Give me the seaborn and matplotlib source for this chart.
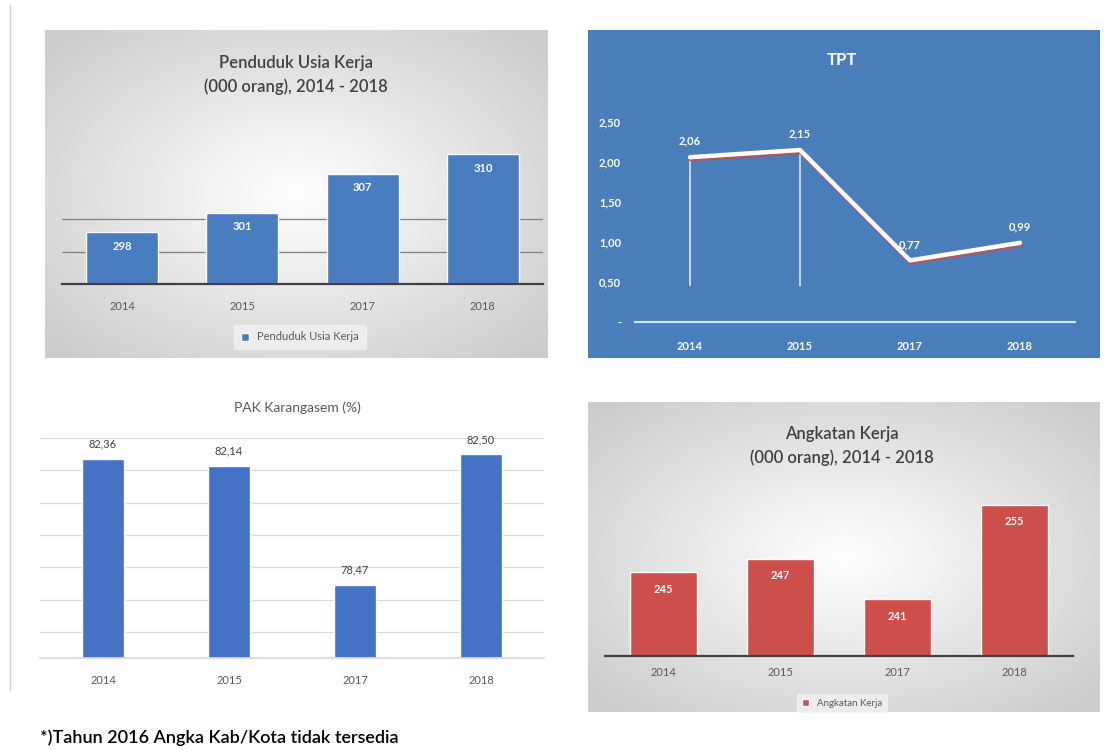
import matplotlib
matplotlib.use("Agg")
import matplotlib.pyplot as plt
import matplotlib.patheffects as pe
from matplotlib.lines import Line2D
import seaborn as sns
import numpy as np
import pandas as pd

years = ["2014", "2015", "2017", "2018"]
usia_kerja = [298, 301, 307, 310]          # Penduduk Usia Kerja (000 orang)
tpt = [2.06, 2.15, 0.77, 0.99]             # TPT (%)
tpak = [82.36, 82.14, 78.47, 82.50]        # PAK Karangasem (%)
angkatan_kerja = [245, 247, 241, 255]      # Angkatan Kerja (000 orang)
tpt_ticks = [0, 0.5, 1.0, 1.5, 2.0, 2.5]

sns.set_theme(style="white")
plt.rcParams["font.family"] = ["Lato", "DejaVu Sans"]

W, H = 1112, 750
fig = plt.figure(figsize=(W / 100, H / 100), dpi=100)
fig.patch.set_facecolor("white")


def box(x0, y0, x1, y1):
    # pixel box (top-left origin) -> figure fraction rect
    return [x0 / W, 1 - y1 / H, (x1 - x0) / W, (y1 - y0) / H]


def gradient_panel(rect, edge=0.80):
    ax = fig.add_axes(rect, zorder=0)
    yy, xx = np.mgrid[-1:1:200j, -1:1:300j]
    r = np.clip(np.sqrt(xx ** 2 + yy ** 2) / 1.35, 0, 1)
    val = 1.0 - (1.0 - edge) * r
    ax.imshow(np.dstack([val, val, val]), aspect="auto", extent=(0, 1, 0, 1))
    ax.set_axis_off()
    return ax


def comma(v, nd=2):
    return f"{v:.{nd}f}".replace(".", ",")


# thin page border on the left
fig.add_artist(Line2D([10 / W, 10 / W], [1 - 5 / H, 1 - 690 / H],
                      transform=fig.transFigure, color="#d0d0d0", lw=1))

# ---------- Penduduk Usia Kerja ----------
gradient_panel(box(45, 30, 548, 358))
ax1 = fig.add_axes(box(62, 141, 543, 284), zorder=1)
ax1.patch.set_alpha(0)
df1 = pd.DataFrame({"tahun": years, "nilai": usia_kerja})
sns.barplot(data=df1, x="tahun", y="nilai", color="#4a7dc0", width=0.6,
            saturation=1, ax=ax1, label="Penduduk Usia Kerja")
ax1.set_ylim(290, 312)
ax1.set_yticks([295, 300])
ax1.yaxis.grid(True, color="#7f7f7f", lw=0.9)
ax1.set_yticklabels([])
ax1.tick_params(axis="y", length=0)
ax1.tick_params(axis="x", length=0, labelsize=8, colors="#595959", pad=12)
ax1.set_xlabel("")
ax1.set_ylabel("")
for s in ["top", "right", "left"]:
    ax1.spines[s].set_visible(False)
ax1.spines["bottom"].set_color("#404040")
ax1.spines["bottom"].set_linewidth(1.6)
for i, v in enumerate(usia_kerja):
    ax1.text(i, v - 2.2, str(v), ha="center", va="center", color="white",
             fontsize=8, fontweight="bold")
fig.text(296 / W, 1 - 75 / H, "Penduduk Usia Kerja\n(000 orang), 2014 - 2018",
         ha="center", va="center", fontsize=12, color="#404040",
         fontweight="semibold", linespacing=1.6)
ax1.legend(loc="center", bbox_to_anchor=(300 / W, 1 - 337 / H),
           bbox_transform=fig.transFigure, fontsize=8, frameon=True,
           facecolor="#f2f2f2", edgecolor="#f2f2f2", handlelength=0.7,
           handleheight=0.7, labelcolor="#595959", borderpad=0.6)

# ---------- TPT ----------
bg2 = fig.add_axes(box(588, 30, 1100, 358), zorder=0)
bg2.set_facecolor("#4a7ebb")
bg2.set_xticks([])
bg2.set_yticks([])
for s in bg2.spines.values():
    s.set_visible(False)
ax2 = fig.add_axes(box(635, 114, 1075, 322), zorder=1)
ax2.patch.set_alpha(0)
df2 = pd.DataFrame({"pos": range(len(years)), "nilai": tpt})
ax2.vlines(df2["pos"][:2], 0.45, df2["nilai"][:2], color="#dce6f2", lw=1.2)
sns.lineplot(data=df2, x="pos", y="nilai", color="white", lw=3.2, ax=ax2,
             path_effects=[pe.SimpleLineShadow(offset=(0.5, -1.5), shadow_color="#c0504d",
                                               alpha=0.9), pe.Normal()])
ax2.set_xlim(-0.5, 3.5)
ax2.set_ylim(0, 2.6)
ax2.set_xticks(range(len(years)))
ax2.set_xticklabels(years)
ax2.set_yticks(tpt_ticks)
ax2.set_yticklabels(["-"] + [comma(t) for t in tpt_ticks[1:]])
ax2.tick_params(axis="both", length=0, labelsize=8, colors="white")
ax2.tick_params(axis="x", pad=14)
ax2.tick_params(axis="y", pad=10)
for lab in ax2.get_yticklabels():
    lab.set_fontweight("bold")
for lab in ax2.get_xticklabels():
    lab.set_fontweight("bold")
ax2.set_xlabel("")
ax2.set_ylabel("")
for s in ["top", "right", "left"]:
    ax2.spines[s].set_visible(False)
ax2.spines["bottom"].set_color("#dce6f2")
ax2.spines["bottom"].set_linewidth(1.5)
for i, v in enumerate(tpt):
    ax2.text(i, v + 0.2, comma(v), ha="center", va="center", color="white",
             fontsize=8, fontweight="bold")
fig.text(842 / W, 1 - 60 / H, "TPT", ha="center", va="center", fontsize=12,
         color="white", fontweight="bold")

# ---------- PAK Karangasem ----------
ax3 = fig.add_axes(box(40, 438, 544, 658), zorder=1)
df3 = pd.DataFrame({"tahun": years, "nilai": tpak})
sns.barplot(data=df3, x="tahun", y="nilai", color="#4472c4", width=0.34,
            saturation=1, ax=ax3)
ax3.set_ylim(76.2, 83.0)
ax3.set_yticks(np.arange(77, 83.5, 1))
ax3.yaxis.grid(True, color="#d9d9d9", lw=0.9)
ax3.set_yticklabels([])
ax3.tick_params(axis="y", length=0)
ax3.tick_params(axis="x", length=0, labelsize=8, colors="#595959", pad=12)
ax3.set_xlabel("")
ax3.set_ylabel("")
for s in ["top", "right", "left"]:
    ax3.spines[s].set_visible(False)
ax3.spines["bottom"].set_color("#d9d9d9")
for i, v in enumerate(tpak):
    ax3.text(i, v + 0.45, comma(v), ha="center", va="center", color="#404040",
             fontsize=8)
fig.text(297 / W, 1 - 408 / H, "PAK Karangasem (%)", ha="center", va="center",
         fontsize=10, color="#595959")

# ---------- Angkatan Kerja ----------
gradient_panel(box(588, 402, 1100, 712))
ax4 = fig.add_axes(box(605, 494, 1073, 656), zorder=1)
ax4.patch.set_alpha(0)
df4 = pd.DataFrame({"tahun": years, "nilai": angkatan_kerja})
sns.barplot(data=df4, x="tahun", y="nilai", color="#cc4f4c", width=0.58,
            saturation=1, ax=ax4, label="Angkatan Kerja")
ax4.set_ylim(232.6, 256.6)
ax4.set_yticks([])
ax4.tick_params(axis="x", length=0, labelsize=8, colors="#595959", pad=8)
ax4.set_xlabel("")
ax4.set_ylabel("")
for s in ["top", "right", "left"]:
    ax4.spines[s].set_visible(False)
ax4.spines["bottom"].set_color("#404040")
ax4.spines["bottom"].set_linewidth(1.6)
for i, v in enumerate(angkatan_kerja):
    ax4.text(i, v - 2.5, str(v), ha="center", va="center", color="white",
             fontsize=8, fontweight="bold")
fig.text(842 / W, 1 - 446 / H, "Angkatan Kerja\n(000 orang), 2014 - 2018",
         ha="center", va="center", fontsize=12, color="#404040",
         fontweight="semibold", linespacing=1.6)
ax4.legend(loc="center", bbox_to_anchor=(842 / W, 1 - 703 / H),
           bbox_transform=fig.transFigure, fontsize=7, frameon=True,
           facecolor="#f2f2f2", edgecolor="#f2f2f2", handlelength=0.7,
           handleheight=0.7, labelcolor="#595959", borderpad=0.5)

# footnote
fig.text(40 / W, 1 - 738 / H, "*)Tahun 2016 Angka Kab/Kota tidak tersedia",
         ha="left", va="center", fontsize=13, color="black", fontweight="semibold")

fig.savefig("out.png", dpi=100)
